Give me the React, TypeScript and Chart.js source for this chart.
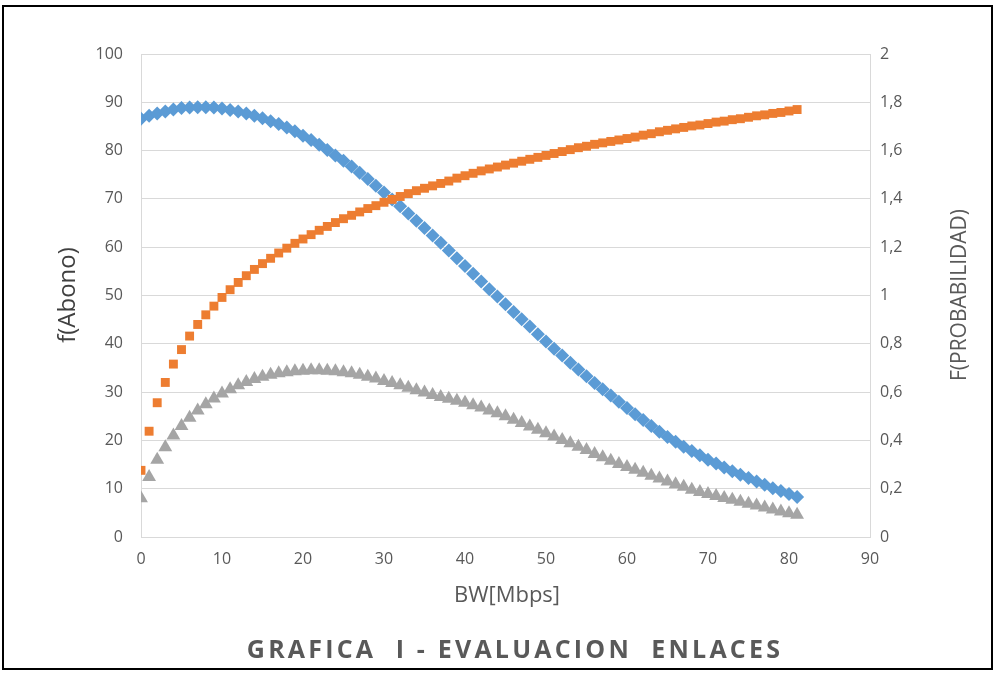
import React, { useEffect, useRef } from 'react';
import { Chart, registerables } from 'chart.js';

Chart.register(...registerables);

// BW [Mbps]
const bw = [
  0, 1, 2, 3, 4, 5, 6, 7, 8, 9, 10, 11, 12, 13, 14, 15, 16, 17, 18, 19, 20,
  21, 22, 23, 24, 25, 26, 27, 28, 29, 30, 31, 32, 33, 34, 35, 36, 37, 38, 39, 40,
  41, 42, 43, 44, 45, 46, 47, 48, 49, 50, 51, 52, 53, 54, 55, 56, 57, 58, 59, 60,
  61, 62, 63, 64, 65, 66, 67, 68, 69, 70, 71, 72, 73, 74, 75, 76, 77, 78, 79, 80, 81,
];

// blue diamonds
const serieAzul = [
  86.6, 87.2, 87.7, 88.1, 88.5, 88.8, 88.9, 89.0, 89.0, 88.9, 88.7,
  88.4, 88.1, 87.7, 87.2, 86.7, 86.1, 85.5, 84.8, 84.0, 83.1,
  82.2, 81.2, 80.1, 79.0, 77.9, 76.7, 75.4, 74.1, 72.7, 71.3,
  69.9, 68.5, 67.0, 65.5, 64.0, 62.4, 60.9, 59.3, 57.7, 56.1,
  54.5, 52.9, 51.3, 49.8, 48.2, 46.6, 45.1, 43.6, 42.0, 40.5,
  39.0, 37.6, 36.1, 34.7, 33.3, 31.9, 30.6, 29.3, 28.0, 26.7,
  25.4, 24.2, 23.0, 21.8, 20.7, 19.7, 18.7, 17.8, 16.9, 16.0,
  15.2, 14.4, 13.6, 12.9, 12.2, 11.5, 10.8, 10.1, 9.5, 8.9, 8.3,
];

// orange squares
const serieNaranja = [
  13.8, 21.9, 27.8, 32.0, 35.8, 38.8, 41.6, 44.0, 46.0, 47.8, 49.6,
  51.2, 52.7, 54.1, 55.4, 56.6, 57.7, 58.8, 59.8, 60.8, 61.7,
  62.6, 63.5, 64.3, 65.1, 65.9, 66.6, 67.3, 68.0, 68.6, 69.3,
  69.9, 70.5, 71.1, 71.7, 72.2, 72.7, 73.2, 73.7, 74.3, 74.8,
  75.3, 75.8, 76.2, 76.6, 77.0, 77.4, 77.8, 78.2, 78.6, 79.0,
  79.4, 79.8, 80.2, 80.6, 80.9, 81.3, 81.6, 81.9, 82.2, 82.5,
  82.8, 83.2, 83.5, 83.9, 84.2, 84.5, 84.8, 85.1, 85.3, 85.6,
  85.9, 86.1, 86.4, 86.6, 86.9, 87.2, 87.4, 87.7, 87.9, 88.2, 88.5,
];

// grey triangles
const serieGris = [
  8.0, 12.4, 16.0, 18.6, 21.0, 23.0, 24.7, 26.2, 27.5, 28.7, 29.7,
  30.6, 31.4, 32.1, 32.7, 33.2, 33.6, 33.9, 34.1, 34.3, 34.4,
  34.5, 34.5, 34.4, 34.3, 34.1, 33.9, 33.6, 33.2, 32.8, 32.3,
  31.9, 31.4, 30.9, 30.4, 29.9, 29.4, 29.0, 28.6, 28.2, 27.8,
  27.3, 26.8, 26.2, 25.6, 25.0, 24.3, 23.6, 22.9, 22.2, 21.5,
  20.8, 20.1, 19.4, 18.7, 18.0, 17.2, 16.5, 15.8, 15.1, 14.5,
  13.9, 13.3, 12.7, 12.1, 11.5, 10.9, 10.4, 9.8, 9.3, 8.9,
  8.5, 8.1, 7.7, 7.3, 6.9, 6.5, 6.1, 5.7, 5.3, 4.9, 4.6,
];

const tituloIzq = 'f(Abono)';
const tituloDer = 'F(PROBABILIDAD)';
const tituloX = 'BW[Mbps]';
const titulo = 'GRAFICA  I - EVALUACION  ENLACES';

const FONT = "'Open Sans', 'Liberation Sans', sans-serif";

function pts(ys: number[]) {
  return bw.map((x, i) => ({ x, y: ys[i] }));
}

export default function App() {
  const ref = useRef<HTMLCanvasElement>(null);

  useEffect(() => {
    document.body.style.margin = '0';
    const tickFont = { family: FONT, size: 16 };
    const chart = new Chart(ref.current as HTMLCanvasElement, {
      type: 'scatter',
      data: {
        datasets: [
          {
            label: 'f(Abono)',
            data: pts(serieAzul),
            pointStyle: 'rectRot',
            pointRadius: 7,
            backgroundColor: '#5B9BD5',
            borderColor: '#5B9BD5',
            borderWidth: 0,
            showLine: false,
            order: 3,
            yAxisID: 'y',
          },
          {
            label: 'Serie 2',
            data: pts(serieNaranja),
            pointStyle: 'rect',
            pointRadius: 6.3,
            backgroundColor: '#ED7D31',
            borderColor: '#ED7D31',
            borderWidth: 0,
            showLine: false,
            order: 2,
            yAxisID: 'y',
          },
          {
            label: 'Serie 3',
            data: pts(serieGris),
            pointStyle: 'triangle',
            pointRadius: 8,
            backgroundColor: '#A5A5A5',
            borderColor: '#A5A5A5',
            borderWidth: 0,
            showLine: false,
            order: 1,
            yAxisID: 'y',
          },
        ],
      },
      options: {
        animation: false,
        responsive: false,
        maintainAspectRatio: false,
        layout: { padding: { top: 54, left: 0, right: 0, bottom: 0 } },
        plugins: { legend: { display: false }, tooltip: { enabled: false } },
        scales: {
          x: {
            type: 'linear',
            min: 0,
            max: 90,
            ticks: { stepSize: 10, color: '#595959', font: tickFont, padding: 13 },
            grid: { display: false, drawTicks: false },
            border: { color: '#d9d9d9', width: 1 },
            afterFit: (s: any) => {
              s.height = 136;
            },
          },
          y: {
            position: 'left',
            min: 0,
            max: 100,
            ticks: { stepSize: 10, color: '#595959', font: tickFont, padding: 18 },
            grid: { color: '#d9d9d9', lineWidth: 1, drawTicks: false },
            border: { color: '#d9d9d9', width: 1 },
            afterFit: (s: any) => {
              s.width = 141;
            },
          },
          y1: {
            position: 'right',
            min: 0,
            max: 2,
            ticks: {
              stepSize: 0.2,
              color: '#595959',
              font: tickFont,
              padding: 10,
              callback: (v: any) => String(Math.round(Number(v) * 10) / 10).replace('.', ','),
            },
            grid: { display: false, drawTicks: false },
            border: { color: '#d9d9d9', width: 1 },
            afterFit: (s: any) => {
              s.width = 126;
            },
          },
        },
      },
    } as any);
    return () => chart.destroy();
  }, []);

  const abs: React.CSSProperties = {
    position: 'absolute',
    whiteSpace: 'pre',
    fontFamily: FONT,
    lineHeight: 1,
  };

  return (
    <div style={{ position: 'fixed', left: 0, top: 0, width: 996, height: 673, background: '#fff', overflow: 'hidden' }}>
      <canvas ref={ref} width={996} height={673} style={{ position: 'absolute', left: 0, top: 0, width: 996, height: 673 }} />
      <div
        style={{
          position: 'absolute',
          left: 2,
          top: 5,
          width: 991,
          height: 665,
          border: '2px solid #000',
          boxSizing: 'border-box',
          pointerEvents: 'none',
        }}
      />
      <div style={{ ...abs, left: 66, top: 295, fontSize: 24, color: '#404040', transform: 'translate(-50%,-50%) rotate(-90deg)' }}>
        {tituloIzq}
      </div>
      <div style={{ ...abs, left: 958, top: 295, fontSize: 21, color: '#595959', transform: 'translate(-50%,-50%) rotate(-90deg)' }}>
        {tituloDer}
      </div>
      <div style={{ ...abs, left: 507, top: 593, fontSize: 22, color: '#595959', transform: 'translate(-50%,-50%)' }}>
        {tituloX}
      </div>
      <div
        style={{
          ...abs,
          left: 515,
          top: 648,
          fontSize: 25,
          fontWeight: 700,
          letterSpacing: 3.2,
          color: '#595959',
          transform: 'translate(-50%,-50%)',
        }}
      >
        {titulo}
      </div>
    </div>
  );
}
